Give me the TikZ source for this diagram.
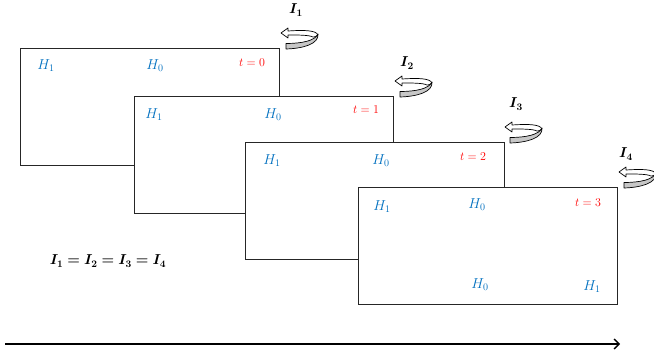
\documentclass[tikz,border=0pt]{standalone}
\usepackage{amsmath,bm}
\usetikzlibrary{arrows.meta}
\definecolor{hblue}{RGB}{0,112,192}
\definecolor{tred}{RGB}{255,0,0}
\begin{document}
\begin{tikzpicture}[x=1pt,y=-1pt,
  frame/.style={draw=black!85, line width=1.1pt, fill=white, minimum width=259pt, minimum height=117pt, anchor=north west, inner sep=0pt},
  hlab/.style={text=hblue, font=\fontsize{14.4}{17}\selectfont, inner sep=0pt},
  tlab/.style={text=tred, font=\fontsize{12}{14}\selectfont, inner sep=0pt},
  ilab/.style={font=\fontsize{14.4}{17}\selectfont, inner sep=0pt},
  rot/.pic={
    \draw[fill=white, line width=0.7pt, line join=round]
      (0,0) -- (7,-5) -- (7,-2) .. controls (22,-3) and (35,-3) .. (37,2)
      .. controls (35,4) and (33,4) .. (32,4) .. controls (28,2) and (18,2) .. (7,2) -- (7,5) -- cycle;
    \draw[fill=black!22, line width=0.7pt, line join=round]
      (37,1) .. controls (34,8) and (20,10.5) .. (5,10.5) -- (5,16) .. controls (22,15.5) and (38,11) .. (37,1) -- cycle;
  }]
\useasboundingbox (0,0) rectangle (654,358);

% frame 1
\node[frame] (r1) at (20,48) {};
\node[hlab] (a1) at (46,66) {$H_1$};
\node[hlab] (b1) at (155,66) {$H_0$};
\node[tlab] (t1) at (252,63) {$t=0$};
\pic at (281,33) {rot};
\node[ilab] (i1) at (296,10) {$\bm{I_1}$};

% frame 2
\node[frame] (r2) at (134,96) {};
\node[hlab] (a2) at (154,115) {$H_1$};
\node[hlab] (b2) at (273,115) {$H_0$};
\node[tlab] (t2) at (366,110) {$t=1$};
\pic at (395,81) {rot};
\node[ilab] (i2) at (407,63) {$\bm{I_2}$};

% frame 3
\node[frame] (r3) at (245,142) {};
\node[hlab] (a3) at (272,161) {$H_1$};
\node[hlab] (b3) at (381,161) {$H_0$};
\node[tlab] (t3) at (473,157) {$t=2$};
\pic at (505,127) {rot};
\node[ilab] (i3) at (516,104) {$\bm{I_3}$};

% frame 4
\node[frame] (r4) at (358,187) {};
\node[hlab] (a4) at (382,207) {$H_1$};
\node[hlab] (b4) at (477,205) {$H_0$};
\node[tlab] (t4) at (588,203) {$t=3$};
\node[hlab] (c4) at (480,285) {$H_0$};
\node[hlab] (d4) at (592,287) {$H_1$};
\pic at (619,172) {rot};
\node[ilab] (i4) at (626,154) {$\bm{I_4}$};

% equation
\node[font=\fontsize{14.4}{17}\selectfont, inner sep=0pt] (eq) at (108,261) {$\bm{I_1=I_2=I_3=I_4}$};

% time axis
\coordinate (s) at (5,344);
\coordinate (e) at (620,344);
\draw[line width=1.4pt, -{Straight Barb[length=5pt,width=10pt]}] (s) -- (e);
\end{tikzpicture}
\end{document}
